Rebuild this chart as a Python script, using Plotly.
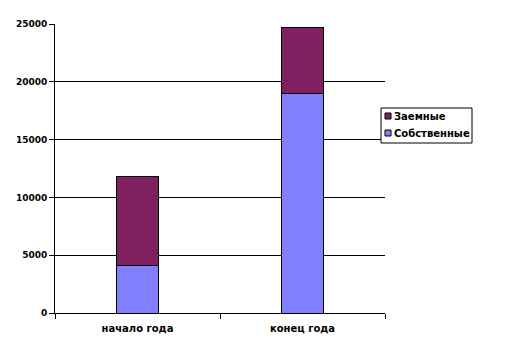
import plotly.graph_objects as go

categories = ["начало года", "конец года"]
own = [4150, 19000]
borrowed = [7620, 5700]
series_names = ["Собственные", "Заемные"]
colors = ["#8080FF", "#802060"]

# plot area in pixels (for placing the custom legend)
PL, PR, PT, PB = 55, 385, 24, 313


def px(x):
    return (x - PL) / (PR - PL)


def py(y):
    return (PB - y) / (PB - PT)


fig = go.Figure()
fig.add_trace(go.Bar(x=categories, y=own, name=series_names[0],
                     marker=dict(color=colors[0], line=dict(color="black", width=1)),
                     width=0.26, showlegend=False))
fig.add_trace(go.Bar(x=categories, y=borrowed, name=series_names[1],
                     marker=dict(color=colors[1], line=dict(color="black", width=1)),
                     width=0.26, showlegend=False))

font = dict(family="DejaVu Sans", size=9, color="black", weight="bold")
xfont = dict(family="DejaVu Sans", size=10, color="black", weight="bold")

fig.update_layout(
    barmode="stack",
    width=509, height=348,
    margin=dict(l=PL, r=509 - PR, t=PT, b=348 - PB),
    plot_bgcolor="white", paper_bgcolor="white",
    font=font,
    showlegend=False,
)
fig.update_xaxes(showline=True, linecolor="black", linewidth=1,
                 ticks="outside", tickson="boundaries", ticklen=5, tickcolor="black",
                 showgrid=False, tickfont=xfont, ticklabelstandoff=6)
fig.update_yaxes(range=[0, 25000], dtick=5000, tickformat="d", showline=True,
                 linecolor="black", linewidth=1,
                 ticks="outside", ticklen=5, tickcolor="black",
                 showgrid=True, gridcolor="black", gridwidth=1, zeroline=False,
                 tickfont=font)

# custom legend (Excel style)
shapes = [dict(type="rect", xref="paper", yref="paper",
               x0=px(381), x1=px(472), y0=py(143), y1=py(108),
               line=dict(color="black", width=1), fillcolor="white")]
legend_items = [(series_names[1], colors[1], 116), (series_names[0], colors[0], 133)]
annotations = []
for name, col, yc in legend_items:
    shapes.append(dict(type="rect", xref="paper", yref="paper",
                       x0=px(385), x1=px(391), y0=py(yc + 3), y1=py(yc - 3),
                       line=dict(color="black", width=1), fillcolor=col))
    annotations.append(dict(xref="paper", yref="paper", x=px(392), y=py(yc),
                            xanchor="left", yanchor="middle", text=name,
                            showarrow=False, font=dict(family="DejaVu Sans", size=10,
                                                       color="black", weight="bold")))
fig.update_layout(shapes=shapes, annotations=annotations)

fig.write_html("out.html")
